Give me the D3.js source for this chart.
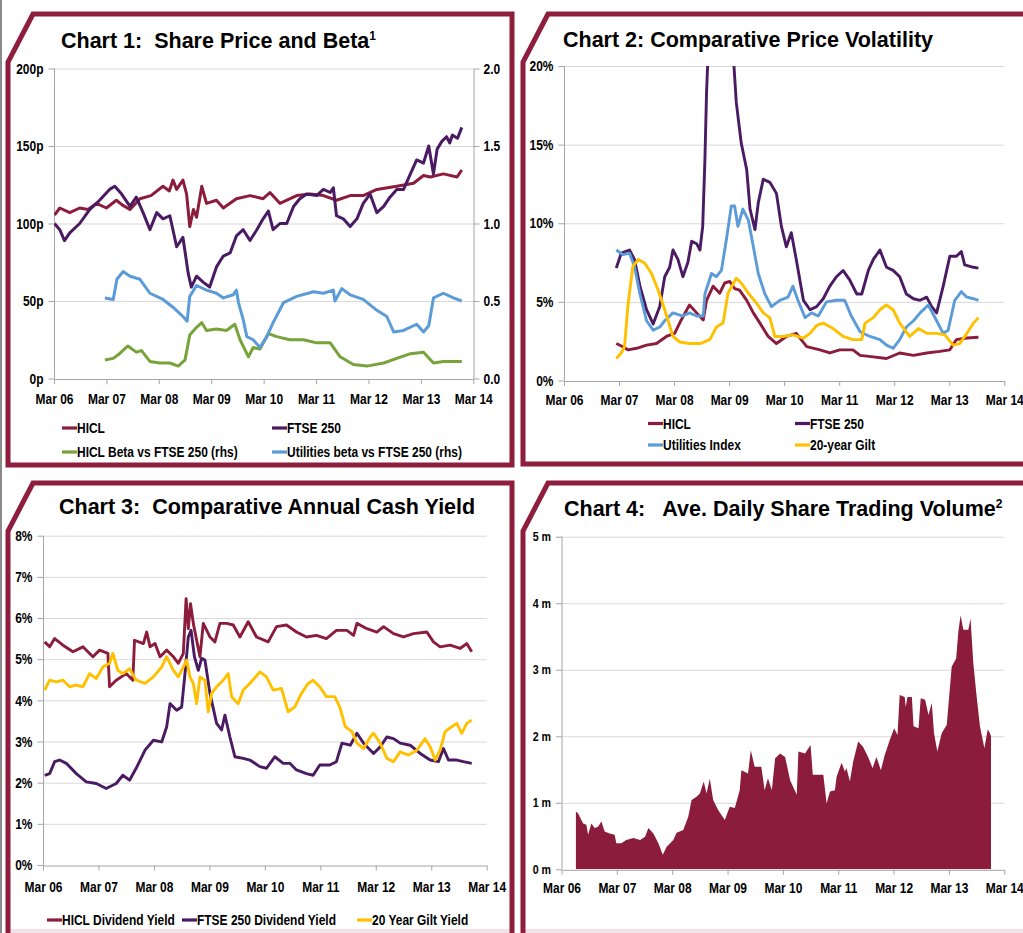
<!DOCTYPE html>
<html><head><meta charset="utf-8">
<script src="https://cdn.jsdelivr.net/npm/d3@7/dist/d3.min.js"></script>
<style>
body{margin:0;background:#fff;overflow:hidden;}
svg{display:block;}
</style></head><body>
<svg id="c" width="1023" height="933"></svg>
<script>
// ---------- shared axis labels ----------
const xTickYears = [0,1,2,3,4,5,6,7,8]; // years since Mar 2006
const xLabels = ["Mar 06","Mar 07","Mar 08","Mar 09","Mar 10","Mar 11","Mar 12","Mar 13","Mar 14"];

// ---------- Chart 1: Share Price and Beta ----------
const c1Title = "Chart 1:  Share Price and Beta";
const c1Sup = "1";
const c1LeftTicks = [0,50,100,150,200];
const c1LeftLabels = ["0p","50p","100p","150p","200p"];
const c1RightTicks = [0,0.5,1,1.5,2];
const c1RightLabels = ["0.0","0.5","1.0","1.5","2.0"];
const c1Names = ["HICL","FTSE 250","HICL Beta vs FTSE 250 (rhs)","Utilities beta vs FTSE 250 (rhs)"];
const c1Hicl = [[0.01,105.5],[0.11,110],[0.3,107],[0.49,110],[0.65,109],[0.81,113],[1.0,110],[1.19,115],[1.3,112],[1.45,109],[1.64,116],[1.85,118],[2.08,124],[2.2,121],[2.27,128],[2.34,122],[2.46,128],[2.53,119],[2.59,98],[2.66,109],[2.72,104],[2.82,124],[2.91,113],[3.1,115],[3.23,110],[3.48,116],[3.74,118],[3.99,116],[4.12,120],[4.31,113],[4.63,118],[4.89,119],[5.14,118],[5.39,115],[5.65,118],[5.9,118],[6.16,122],[6.54,124],[6.86,126],[7.05,131],[7.18,130],[7.43,132],[7.69,130],[7.78,134.5]];
const c1Ftse = [[0.01,100],[0.11,96],[0.2,89],[0.3,94],[0.49,100],[0.68,109],[0.87,115],[1.06,122],[1.16,124],[1.29,119],[1.45,111],[1.57,117],[1.7,107],[1.83,96],[1.96,107],[2.08,103],[2.21,105],[2.34,85],[2.46,91],[2.56,68],[2.62,59],[2.72,66],[2.85,62],[2.97,59],[3.1,72],[3.23,79],[3.36,81],[3.48,92],[3.61,96],[3.74,89],[3.87,96],[3.99,103],[4.09,108],[4.18,96],[4.31,100],[4.44,100],[4.57,111],[4.69,116],[4.82,119],[5.01,118],[5.14,122],[5.27,120],[5.33,123],[5.39,105],[5.52,103],[5.65,98],[5.78,103],[5.9,113],[6.03,119],[6.16,107],[6.29,111],[6.41,117],[6.54,122],[6.67,122],[6.8,132],[6.92,141],[7.05,139],[7.15,150],[7.24,132],[7.31,148],[7.4,153],[7.49,156],[7.55,152],[7.6,157],[7.7,155],[7.78,162]];
const c1HiclBeta = [[0.97,0.12],[1.13,0.13],[1.25,0.16],[1.41,0.21],[1.57,0.17],[1.67,0.18],[1.83,0.11],[2.02,0.1],[2.21,0.1],[2.37,0.08],[2.5,0.12],[2.59,0.28],[2.72,0.33],[2.82,0.36],[2.91,0.31],[3.1,0.32],[3.29,0.31],[3.45,0.35],[3.55,0.25],[3.71,0.14],[3.8,0.2],[3.93,0.19],[4.09,0.29],[4.25,0.27],[4.5,0.25],[4.76,0.25],[5.01,0.23],[5.27,0.23],[5.46,0.14],[5.71,0.09],[5.97,0.08],[6.29,0.1],[6.54,0.13],[6.8,0.16],[7.05,0.17],[7.24,0.1],[7.43,0.11],[7.62,0.11],[7.78,0.11]];
const c1UtilBeta = [[0.97,0.52],[1.13,0.51],[1.2,0.64],[1.32,0.69],[1.45,0.66],[1.64,0.64],[1.83,0.55],[2.08,0.51],[2.27,0.46],[2.46,0.4],[2.54,0.37],[2.59,0.53],[2.72,0.6],[2.91,0.57],[3.1,0.55],[3.23,0.52],[3.42,0.54],[3.48,0.57],[3.52,0.49],[3.61,0.38],[3.68,0.27],[3.8,0.25],[3.93,0.2],[4.06,0.27],[4.18,0.36],[4.38,0.49],[4.63,0.53],[4.95,0.56],[5.14,0.55],[5.33,0.57],[5.36,0.5],[5.49,0.58],[5.65,0.54],[5.9,0.51],[6.16,0.44],[6.35,0.4],[6.48,0.3],[6.67,0.31],[6.92,0.35],[7.05,0.3],[7.15,0.34],[7.24,0.52],[7.43,0.55],[7.62,0.52],[7.78,0.5]];

// ---------- Chart 2: Comparative Price Volatility ----------
const c2Title = "Chart 2: Comparative Price Volatility";
const c2Ticks = [0,5,10,15,20];
const c2Labels = ["0%","5%","10%","15%","20%"];
const c2Names = ["HICL","FTSE 250","Utilities Index","20-year Gilt"];
const c2Hicl = [[0.95,2.35],[1.07,2.15],[1.16,1.95],[1.32,2.05],[1.5,2.25],[1.68,2.35],[1.86,2.8],[2.01,3.0],[2.13,3.85],[2.28,4.8],[2.41,4.3],[2.53,3.85],[2.59,5.1],[2.71,6.0],[2.83,5.55],[2.92,6.2],[3.01,6.3],[3.1,5.85],[3.19,5.75],[3.32,5.1],[3.44,4.3],[3.56,3.65],[3.71,2.8],[3.86,2.35],[4.04,2.8],[4.22,3.0],[4.41,2.15],[4.65,1.95],[4.83,1.75],[5.01,1.95],[5.25,1.95],[5.38,1.6],[5.62,1.5],[5.86,1.4],[6.1,1.75],[6.35,1.6],[6.59,1.75],[6.83,1.85],[7.01,1.95],[7.13,2.6],[7.32,2.7],[7.53,2.75]];
const c2Ftse = [[0.95,7.15],[1.04,8.1],[1.19,8.3],[1.28,7.7],[1.38,6.0],[1.5,4.5],[1.62,3.6],[1.74,4.7],[1.83,6.6],[1.92,7.2],[1.98,8.3],[2.07,7.7],[2.16,6.6],[2.25,7.5],[2.32,8.85],[2.41,8.7],[2.47,8.3],[2.52,9.8],[2.56,14.0],[2.59,18.3],[2.62,21],[2.7,27],[2.8,30],[2.9,26],[3.07,21],[3.13,17.7],[3.22,15.1],[3.32,13.4],[3.38,10.9],[3.47,9.6],[3.53,11.3],[3.62,12.8],[3.74,12.6],[3.86,11.9],[3.95,9.8],[4.04,8.5],[4.13,9.4],[4.22,7.7],[4.35,5.1],[4.47,4.5],[4.59,4.7],[4.71,5.2],[4.83,6.0],[4.95,6.6],[5.07,7.0],[5.19,6.4],[5.32,5.5],[5.41,5.5],[5.53,7.0],[5.62,7.7],[5.74,8.3],[5.86,7.2],[5.98,7.0],[6.1,6.6],[6.22,5.5],[6.35,5.2],[6.47,5.1],[6.59,5.3],[6.68,4.7],[6.77,4.3],[6.89,6.0],[7.01,7.9],[7.13,7.9],[7.22,8.2],[7.28,7.35],[7.44,7.2],[7.53,7.15]];
const c2Util = [[0.95,8.3],[1.07,8.0],[1.19,8.1],[1.28,7.25],[1.38,5.5],[1.5,3.8],[1.62,3.2],[1.74,3.4],[1.83,3.8],[1.98,4.3],[2.16,4.1],[2.28,4.3],[2.41,4.1],[2.53,4.1],[2.56,5.5],[2.68,6.8],[2.77,6.6],[2.86,7.0],[2.95,8.95],[3.04,11.1],[3.1,11.1],[3.16,9.8],[3.25,10.9],[3.35,10.2],[3.44,8.5],[3.53,6.8],[3.65,5.5],[3.77,4.7],[3.92,5.1],[4.07,5.3],[4.16,6.0],[4.25,5.1],[4.38,4.0],[4.5,4.3],[4.62,4.1],[4.77,5.0],[4.95,5.1],[5.1,5.1],[5.22,4.1],[5.38,3.1],[5.56,2.8],[5.74,2.6],[5.86,2.25],[5.98,2.05],[6.1,2.6],[6.22,3.4],[6.35,3.8],[6.47,4.3],[6.62,4.8],[6.77,3.8],[6.89,3.0],[6.98,3.2],[7.1,5.1],[7.22,5.65],[7.32,5.3],[7.44,5.2],[7.53,5.1]];
const c2Gilt = [[0.95,1.4],[1.04,1.75],[1.1,2.15],[1.16,4.7],[1.25,7.25],[1.35,7.7],[1.47,7.45],[1.59,6.8],[1.71,5.75],[1.83,4.5],[1.98,2.8],[2.1,2.45],[2.28,2.35],[2.47,2.35],[2.65,2.6],[2.77,3.4],[2.89,3.65],[2.98,5.55],[3.13,6.5],[3.22,6.2],[3.35,5.55],[3.5,4.9],[3.62,4.3],[3.74,4.0],[3.83,2.8],[3.98,2.8],[4.16,2.9],[4.35,2.7],[4.47,3.0],[4.59,3.5],[4.71,3.65],[4.89,3.3],[5.07,2.8],[5.25,2.6],[5.41,2.6],[5.47,3.65],[5.62,4.0],[5.74,4.5],[5.86,4.8],[5.98,4.5],[6.1,3.65],[6.28,2.8],[6.44,3.3],[6.59,3.0],[6.77,3.0],[6.92,2.9],[7.07,2.25],[7.19,2.35],[7.32,3.0],[7.44,3.65],[7.53,4.0]];

// ---------- Chart 3: Comparative Annual Cash Yield ----------
const c3Title = "Chart 3:  Comparative Annual Cash Yield";
const c3Ticks = [0,1,2,3,4,5,6,7,8];
const c3Labels = ["0%","1%","2%","3%","4%","5%","6%","7%","8%"];
const c3Names = ["HICL Dividend Yield","FTSE 250 Dividend Yield","20 Year Gilt Yield"];
const c3Hicl = [[0.03,5.42],[0.12,5.3],[0.21,5.5],[0.36,5.34],[0.54,5.18],[0.72,5.3],[0.9,5.06],[1.02,5.22],[1.17,5.14],[1.2,4.33],[1.32,4.49],[1.5,4.65],[1.62,4.49],[1.65,5.46],[1.81,5.38],[1.87,5.66],[1.93,5.3],[2.02,5.38],[2.11,5.06],[2.23,5.22],[2.35,5.06],[2.44,4.9],[2.53,5.14],[2.58,6.47],[2.62,5.74],[2.66,6.35],[2.71,5.87],[2.77,5.46],[2.83,5.06],[2.89,5.87],[3.01,5.54],[3.1,5.42],[3.19,5.87],[3.31,5.87],[3.43,5.83],[3.55,5.54],[3.7,5.91],[3.85,5.54],[4.06,5.42],[4.21,5.79],[4.39,5.83],[4.57,5.66],[4.75,5.54],[4.93,5.58],[5.11,5.5],[5.29,5.7],[5.48,5.7],[5.6,5.58],[5.66,5.87],[5.84,5.74],[6.02,5.66],[6.14,5.79],[6.32,5.62],[6.5,5.54],[6.68,5.62],[6.92,5.66],[7.04,5.42],[7.16,5.3],[7.34,5.34],[7.52,5.26],[7.64,5.38],[7.73,5.18]];
const c3Ftse = [[0.03,2.18],[0.12,2.22],[0.21,2.51],[0.3,2.55],[0.42,2.47],[0.6,2.22],[0.78,2.02],[0.96,1.98],[1.14,1.86],[1.32,1.98],[1.44,2.18],[1.56,2.06],[1.68,2.35],[1.84,2.79],[1.99,3.03],[2.14,2.99],[2.23,3.36],[2.29,3.92],[2.41,3.76],[2.5,3.84],[2.56,4.65],[2.62,5.54],[2.67,5.7],[2.73,5.06],[2.8,4.73],[2.86,5.02],[2.92,4.98],[3.01,4.17],[3.13,3.44],[3.22,3.28],[3.28,3.64],[3.37,3.11],[3.46,2.63],[3.61,2.59],[3.73,2.55],[3.91,2.39],[4.03,2.35],[4.18,2.63],[4.33,2.47],[4.45,2.47],[4.57,2.31],[4.75,2.22],[4.87,2.18],[4.99,2.43],[5.17,2.43],[5.29,2.51],[5.39,2.96],[5.54,2.91],[5.66,3.2],[5.78,2.96],[5.96,2.71],[6.08,2.87],[6.2,3.11],[6.32,3.07],[6.44,2.96],[6.62,2.91],[6.8,2.71],[6.98,2.55],[7.13,2.51],[7.22,2.83],[7.31,2.55],[7.46,2.55],[7.58,2.51],[7.73,2.47]];
const c3Gilt = [[0.03,4.25],[0.12,4.49],[0.24,4.45],[0.36,4.49],[0.48,4.33],[0.6,4.37],[0.72,4.33],[0.84,4.65],[0.96,4.53],[1.08,4.81],[1.2,4.9],[1.26,5.14],[1.35,4.73],[1.44,4.65],[1.56,4.77],[1.68,4.49],[1.84,4.41],[1.99,4.57],[2.14,4.81],[2.23,5.06],[2.35,4.73],[2.44,4.57],[2.53,4.81],[2.59,4.98],[2.65,4.57],[2.71,4.41],[2.77,3.92],[2.83,4.57],[2.92,4.49],[2.98,3.72],[3.04,4.17],[3.13,4.33],[3.25,4.49],[3.34,4.65],[3.4,4.09],[3.52,3.92],[3.61,4.25],[3.73,4.41],[3.91,4.69],[4.03,4.57],[4.15,4.25],[4.3,4.29],[4.42,3.72],[4.54,3.84],[4.66,4.17],[4.78,4.41],[4.87,4.49],[4.99,4.33],[5.11,4.09],[5.26,4.09],[5.35,3.84],[5.45,3.36],[5.57,3.24],[5.66,2.96],[5.78,2.83],[5.9,3.11],[5.96,3.2],[6.08,2.96],[6.2,2.59],[6.32,2.51],[6.44,2.75],[6.59,2.67],[6.74,2.79],[6.89,3.07],[6.98,2.87],[7.07,2.55],[7.16,2.79],[7.25,3.24],[7.37,3.36],[7.46,3.44],[7.55,3.2],[7.64,3.44],[7.73,3.52]];

// ---------- Chart 4: Ave. Daily Share Trading Volume ----------
const c4Title = "Chart 4:   Ave. Daily Share Trading Volume";
const c4Sup = "2";
const c4Ticks = [0,1,2,3,4,5];
const c4Labels = ["0 m","1 m","2 m","3 m","4 m","5 m"];
const c4Volume = [[0.26,0.87],[0.3,0.84],[0.39,0.69],[0.45,0.67],[0.48,0.52],[0.54,0.69],[0.6,0.62],[0.66,0.64],[0.72,0.72],[0.78,0.57],[0.87,0.54],[0.96,0.52],[0.99,0.39],[1.08,0.39],[1.17,0.44],[1.3,0.47],[1.42,0.44],[1.51,0.49],[1.57,0.62],[1.66,0.54],[1.75,0.39],[1.83,0.22],[1.9,0.34],[2.02,0.44],[2.08,0.55],[2.2,0.59],[2.29,0.79],[2.35,1.04],[2.44,1.09],[2.5,1.14],[2.57,1.32],[2.62,1.14],[2.68,1.36],[2.74,1.04],[2.83,0.89],[2.95,0.74],[3.04,0.94],[3.13,0.92],[3.22,1.19],[3.25,1.49],[3.37,1.44],[3.42,1.79],[3.49,1.54],[3.61,1.54],[3.67,1.19],[3.73,1.37],[3.8,1.19],[3.86,1.67],[3.95,1.74],[4.04,1.69],[4.13,1.34],[4.25,1.12],[4.28,1.77],[4.4,1.74],[4.5,1.87],[4.54,1.42],[4.73,1.42],[4.79,0.99],[4.85,1.17],[4.94,1.19],[4.97,1.39],[5.06,1.6],[5.12,1.47],[5.15,1.52],[5.21,1.32],[5.27,1.62],[5.36,1.92],[5.45,1.84],[5.54,1.69],[5.62,1.52],[5.69,1.69],[5.77,1.49],[5.84,1.72],[5.93,1.94],[6.01,2.12],[6.07,2.02],[6.11,2.62],[6.2,2.59],[6.22,2.44],[6.25,2.59],[6.33,2.59],[6.36,2.15],[6.45,2.12],[6.49,2.57],[6.57,2.55],[6.63,2.32],[6.69,2.5],[6.73,2.05],[6.79,1.77],[6.87,2.05],[6.96,2.17],[7.05,3.05],[7.13,3.17],[7.17,3.57],[7.21,3.82],[7.26,3.6],[7.35,3.6],[7.39,3.77],[7.44,3.1],[7.5,2.6],[7.56,2.15],[7.64,1.82],[7.7,2.1],[7.74,2.05],[7.76,2.0]];

// ---------- colours ----------
const colMaroon = "#8c1c3c", colPurple = "#4a1a62", colBlue = "#5b9bd8", colGreen = "#77a33a", colGold = "#ffc000";
const frameCol = "#8e1d3e";

const svg = d3.select("#c");

// font detection: condensed face present?
const probeA = svg.append("text").style("font-family","'Liberation Sans Narrow','Liberation Sans'").style("font-weight","bold").style("font-size","20px").text("Mar 06 Mar 07 HICL");
const probeB = svg.append("text").style("font-family","'Liberation Sans'").style("font-weight","bold").style("font-size","20px").text("Mar 06 Mar 07 HICL");
const ratio = probeA.node().getComputedTextLength() / probeB.node().getComputedTextLength();
probeA.remove(); probeB.remove();
const NARROW = ratio < 0.95;
const FAM = NARROW ? "'Liberation Sans Narrow','Liberation Sans',sans-serif" : "'Liberation Sans',Arial,sans-serif";
const SX = NARROW ? 1 : 0.82;
const FS = 14.6;

function condense(sel){
  sel.each(function(){
    const t = d3.select(this);
    const x = +t.attr("x") || 0, y = +t.attr("y") || 0;
    t.attr("x", null).attr("y", null)
     .attr("transform", `translate(${x},${y}) scale(${SX},1)`)
     .style("font-family", FAM).style("font-weight","bold").attr("fill","#000");
  });
}
function label(g, x, y, str, anchor, size){
  return g.append("text").attr("transform", `translate(${x},${y}) scale(${SX},1)`)
    .attr("text-anchor", anchor || "start")
    .style("font-family", FAM).style("font-weight","bold").style("font-size",(size||FS)+"px")
    .attr("fill","#000").text(str);
}
function title(x, y, str, sup){
  const t = svg.append("text").attr("x",x).attr("y",y)
    .style("font-family","'Liberation Sans',Arial,sans-serif").style("font-weight","bold")
    .style("font-size","21.5px").style("white-space","pre").attr("fill","#000");
  t.append("tspan").text(str);
  if (sup) t.append("tspan").attr("dy",-8).style("font-size","12px").text(sup);
}

// generic panel
function panel(o){
  const g = svg.append("g");
  const x = d3.scaleLinear().domain([0,8]).range([o.x0, o.x1]);
  const y = d3.scaleLinear().domain([0, o.yMax]).range([o.yb, o.yt]);
  g.append("g").selectAll("line").data(o.ticks.filter(d=>d>0)).join("line")
    .attr("x1",o.x0).attr("x2",o.x1).attr("y1",d=>y(d)+0.5).attr("y2",d=>y(d)+0.5)
    .attr("stroke","#d9d9d9").attr("stroke-width",1);
  const xa = g.append("g").attr("transform",`translate(0,${o.yb+0.5})`).attr("color","#a6a6a6")
    .call(d3.axisBottom(x).tickValues(xTickYears).tickFormat((d,i)=>xLabels[i]).tickSize(5).tickSizeOuter(0).tickPadding(o.xPad));
  xa.selectAll("text").style("font-size",FS+"px"); condense(xa.selectAll("text"));
  const ya = g.append("g").attr("transform",`translate(${o.x0+0.5},0)`).attr("color","#a6a6a6")
    .call(d3.axisLeft(y).tickValues(o.ticks).tickFormat((d,i)=>o.labels[i]).tickSize(6).tickSizeOuter(0).tickPadding(5));
  ya.selectAll("text").style("font-size",(o.yFs||FS)+"px"); condense(ya.selectAll("text"));
  ya.select(".domain").attr("d",`M0,${o.yb}V${o.yt}`);
  const clipId = "clip"+o.id;
  svg.append("clipPath").attr("id",clipId).append("rect")
    .attr("x",o.x0).attr("y",o.yt).attr("width",o.x1-o.x0).attr("height",o.yb-o.yt);
  const plot = g.append("g").attr("clip-path",`url(#${clipId})`);
  return {g, x, y, plot};
}
function drawLine(p, data, col, w, yScale){
  const ys = yScale || p.y;
  p.plot.append("path").datum(data)
    .attr("d", d3.line().x(d=>p.x(d[0])).y(d=>ys(d[1])))
    .attr("fill","none").attr("stroke",col).attr("stroke-width",w||2.9).attr("stroke-linejoin","round");
}
function legendItem(x, y, name, col){
  svg.append("line").attr("x1",x).attr("x2",x+15).attr("y1",y).attr("y2",y)
    .attr("stroke",col).attr("stroke-width",3.2);
  label(svg, x+15, y+5.3, name, "start");
}

// ---- Chart 1 ----
const p1 = panel({id:1, x0:54, x1:473.3, yt:68.5, yb:378.5, yMax:200, ticks:c1LeftTicks, labels:c1LeftLabels, xPad:10});
const y1r = d3.scaleLinear().domain([0,2]).range([378.5,68.5]);
const ra = p1.g.append("g").attr("transform","translate(473.5,0)").attr("color","#a6a6a6")
  .call(d3.axisRight(y1r).tickValues(c1RightTicks).tickFormat((d,i)=>c1RightLabels[i]).tickSize(6).tickSizeOuter(0).tickPadding(4));
ra.selectAll("text").style("font-size",FS+"px"); condense(ra.selectAll("text"));
drawLine(p1, c1Hicl, colMaroon, 3);
drawLine(p1, c1Ftse, colPurple, 3);
drawLine(p1, c1HiclBeta, colGreen, 3, y1r);
drawLine(p1, c1UtilBeta, colBlue, 3, y1r);
legendItem(62, 428, c1Names[0], colMaroon);
legendItem(272, 428, c1Names[1], colPurple);
legendItem(62, 452, c1Names[2], colGreen);
legendItem(272, 452, c1Names[3], colBlue);

// ---- Chart 2 ----
const p2 = panel({id:2, x0:564, x1:1004.3, yt:66, yb:380.5, yMax:20, ticks:c2Ticks, labels:c2Labels, xPad:9});
drawLine(p2, c2Hicl, colMaroon);
drawLine(p2, c2Ftse, colPurple);
drawLine(p2, c2Util, colBlue);
drawLine(p2, c2Gilt, colGold);
legendItem(648, 423.5, c2Names[0], colMaroon);
legendItem(795, 423.5, c2Names[1], colPurple);
legendItem(648, 445, c2Names[2], colBlue);
legendItem(795, 445, c2Names[3], colGold);

// ---- Chart 3 ----
const p3 = panel({id:3, x0:43, x1:486.7, yt:535.7, yb:865, yMax:8, ticks:c3Ticks, labels:c3Labels, xPad:11});
drawLine(p3, c3Hicl, colMaroon);
drawLine(p3, c3Ftse, colPurple);
drawLine(p3, c3Gilt, colGold);
legendItem(47, 920, c3Names[0], colMaroon);
legendItem(182, 920, c3Names[1], colPurple);
legendItem(357, 920, c3Names[2], colGold);

// ---- Chart 4 ----
const p4 = panel({id:4, x0:561.5, x1:1004.3, yt:536.7, yb:869.3, yMax:5, ticks:c4Ticks, labels:c4Labels, xPad:8, yFs:13});
p4.plot.append("path").datum(c4Volume)
  .attr("d", d3.area().x(d=>p4.x(d[0])).y0(p4.y(0)).y1(d=>p4.y(d[1])))
  .attr("fill", colMaroon);

// ---- frames, page edge, titles ----
svg.append("rect").attr("x",10).attr("y",929).attr("width",501).attr("height",4).attr("fill","#f4e1e7");
svg.append("rect").attr("x",525).attr("y",929).attr("width",498).attr("height",4).attr("fill","#f4e1e7");
const frames = [
  "M33,14 H512 V465 H8 V62 Z",
  "M1030,14 H548 L523,62 V464 H1030",
  "M8,945 V531 L33,483 H512 V945",
  "M1030,483 H548 L523,531 V945"
];
svg.append("g").selectAll("path").data(frames).join("path")
  .attr("d",d=>d).attr("fill","none").attr("stroke",frameCol).attr("stroke-width",5).attr("stroke-linejoin","miter");
svg.append("rect").attr("x",0).attr("y",0).attr("width",2).attr("height",933).attr("fill","#8a8a8a");

title(61, 48, c1Title, c1Sup);
title(563, 47, c2Title);
title(59, 514, c3Title);
title(564, 515.5, c4Title, c4Sup);
</script>
</body></html>
